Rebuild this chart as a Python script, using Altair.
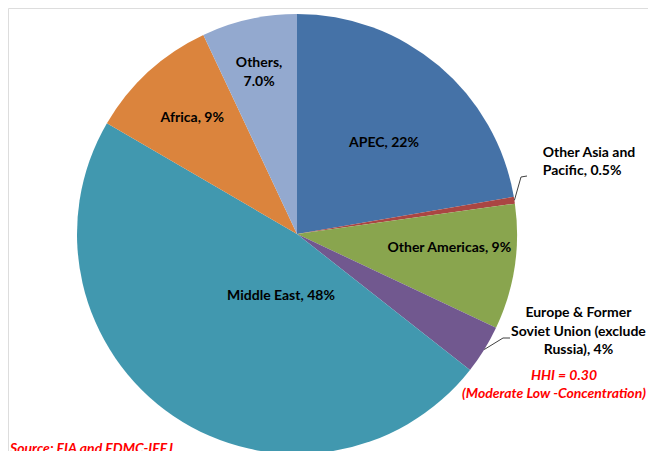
import altair as alt
import pandas as pd
import numpy as np

categories = ["APEC", "Other Asia and Pacific", "Other Americas",
              "Europe & Former Soviet Union (exclude Russia)", "Middle East", "Africa", "Others"]
values = [22.3, 0.5, 9.2, 3.6, 47.8, 9.6, 7.0]
labels = ["APEC, 22%", "Other Asia and\nPacific, 0.5%", "Other Americas, 9%",
          "Europe & Former\nSoviet Union (exclude\nRussia), 4%", "Middle East, 48%",
          "Africa, 9%", "Others,\n7.0%"]
colors = ["#4572A7", "#AA4643", "#89A54E", "#71588F", "#4198AF", "#DB843D", "#93A9CF"]

# layout (view pixels)
W, H = 640, 443
CX, CY, R = 289, 226, 220
LH = 18.5
label_radius = [126, 256, 153, 298, 64, 156, 166]
label_angle_shift = [3.5, -7.5, -3.3, -12.5, -19.7, 0.3, -0.6]
label_align = ["center", "left", "center", "center", "center", "center", "center"]
FONT = "Lato"

df = pd.DataFrame({"category": categories, "value": values, "order": range(len(values))})

total = sum(values)
cum = np.cumsum([0] + values)
mid_deg = [(cum[i] + cum[i + 1]) / 2 / total * 360 for i in range(len(values))]

lab = pd.DataFrame({
    "label": labels,
    "ang": [np.radians(m + s) for m, s in zip(mid_deg, label_angle_shift)],
    "r": label_radius,
    "align": label_align,
    "nlines": [t.count("\n") + 1 for t in labels],
})
lab["x"] = CX + lab["r"] * np.sin(lab["ang"])
# first line position so the whole block is centred on the anchor
lab["y"] = CY - lab["r"] * np.cos(lab["ang"]) - (lab["nlines"] - 1) * LH / 2

pie = alt.Chart(df).mark_arc(outerRadius=R).encode(
    theta=alt.Theta("value:Q", stack=True),
    order=alt.Order("order:Q"),
    color=alt.Color("category:N", scale=alt.Scale(domain=categories, range=colors), legend=None),
    x=alt.value(CX), y=alt.value(CY),
)

def text_layer(d, align):
    return alt.Chart(d).mark_text(
        font=FONT, fontSize=14, fontWeight="bold", color="#000000", align=align,
        baseline="middle", lineBreak="\n", lineHeight=LH,
    ).encode(
        x=alt.X("x:Q", scale=None), y=alt.Y("y:Q", scale=None), text="label:N"
    )

texts = [text_layer(lab[lab["align"] == a], a) for a in ["center", "left"]]

# leader lines: start at slice edge, elbow, end near label
def leader(i, elbow, end):
    a = np.radians(mid_deg[i])
    sx, sy = CX + R * np.sin(a), CY - R * np.cos(a)
    return pd.DataFrame({"x": [sx, elbow[0], end[0]], "y": [sy, elbow[1], end[1]],
                         "k": [0, 1, 2], "g": [i] * 3})

lines_df = pd.concat([leader(1, (513, 169), (519, 168)), leader(3, (495, 330), (502, 330))])
leaders = alt.Chart(lines_df).mark_line(color="#404040", strokeWidth=1).encode(
    x=alt.X("x:Q", scale=None), y=alt.Y("y:Q", scale=None), order="k:Q", detail="g:N"
)

notes = pd.DataFrame({
    "text": ["HHI = 0.30", "(Moderate Low -Concentration)"],
    "x": [556, 546], "y": [368, 386],
})
hhi = alt.Chart(notes).mark_text(
    font=FONT, fontSize=14, fontWeight="bold", fontStyle="italic", color="#FF0000",
    align="center", baseline="middle"
).encode(x=alt.X("x:Q", scale=None), y=alt.Y("y:Q", scale=None), text="text:N")

src = pd.DataFrame({"text": ["Source:  EIA and EDMC-IEEJ"], "x": [2], "y": [441]})
source = alt.Chart(src).mark_text(
    font=FONT, fontSize=14, fontWeight="bold", fontStyle="italic", color="#FF0000",
    align="left", baseline="middle"
).encode(x=alt.X("x:Q", scale=None), y=alt.Y("y:Q", scale=None), text="text:N")

chart = alt.layer(pie, leaders, *texts, hhi, source).properties(
    width=W, height=H, padding=0, autosize=alt.AutoSizeParams(type="none")
).configure_view(strokeWidth=0, stroke="transparent").configure(background="white")

chart.save("out.html", embed_options={"renderer": "svg", "actions": False})
